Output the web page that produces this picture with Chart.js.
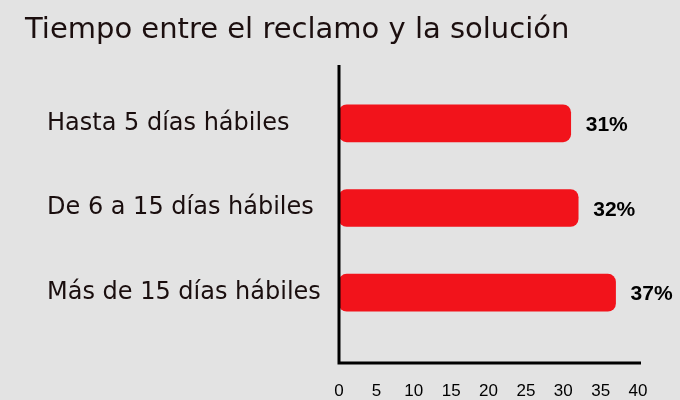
<!DOCTYPE html>
<html>
<head>
<meta charset="utf-8">
<script src="https://cdn.jsdelivr.net/npm/chart.js@4/dist/chart.umd.min.js"></script>
<style>
    html, body { margin: 0; padding: 0; background: #e3e3e3; }
    canvas { display: block; }
</style>
</head>
<body>
<canvas id="myChart" width="680" height="400"></canvas>
<script>
// data
const chart_title = 'Tiempo entre el reclamo y la solución';
const categories = ['Hasta 5 días hábiles', 'De 6 a 15 días hábiles', 'Más de 15 días hábiles'];
const percent_values = [31, 32, 37];
const x_ticks = [0, 5, 10, 15, 20, 25, 30, 35, 40];

// title drawn at the far left, above the plot
const titlePlugin =
{
    id: 'leftTitle',
    afterDraw(chart)
    {
        const ctx = chart.ctx;
        ctx.save();
        ctx.font = '29px "DejaVu Sans", Verdana, sans-serif';
        ctx.fillStyle = '#1c0f0f';
        ctx.textAlign = 'left';
        ctx.textBaseline = 'alphabetic';
        ctx.fillText(chart_title, 25, 38);
        ctx.restore();
    }
};

// the two black axis lines
const axisPlugin =
{
    id: 'axisLines',
    afterDatasetsDraw(chart)
    {
        const ctx = chart.ctx;
        const x = chart.scales.x;
        const area = chart.chartArea;
        const x0 = x.getPixelForValue(0);
        const x40 = x.getPixelForValue(40);
        const yLine = area.bottom + 28;

        ctx.save();
        ctx.strokeStyle = '#000';
        ctx.lineWidth = 3;
        ctx.beginPath();
        ctx.moveTo(x0, area.top - 16);
        ctx.lineTo(x0, yLine + 1.5);
        ctx.moveTo(x0 - 1.5, yLine);
        ctx.lineTo(x40 + 3, yLine);
        ctx.stroke();
        ctx.restore();
    }
};

// "31%" labels at the end of each bar
const valuePlugin =
{
    id: 'valueLabels',
    afterDatasetsDraw(chart)
    {
        const ctx = chart.ctx;
        const meta = chart.getDatasetMeta(0);
        ctx.save();
        ctx.font = 'bold 21px "Liberation Sans", Arial, sans-serif';
        ctx.fillStyle = '#000';
        ctx.textAlign = 'left';
        ctx.textBaseline = 'middle';
        meta.data.forEach(function(bar, i)
        {
            ctx.fillText(percent_values[i] + '%', bar.x + 15, bar.y + 2);
        });
        ctx.restore();
    }
};

let myChart = document.getElementById('myChart').getContext('2d');

let chart_1 = new Chart(myChart,
{
    type: 'bar',
    data:
    {
        labels: categories,
        datasets:
        [{
            data: percent_values,
            backgroundColor: '#f2131b',
            borderRadius: 8,
            borderSkipped: false,
            barThickness: 37
        }]
    },
    options:
    {
        indexAxis: 'y',
        responsive: false,
        animation: false,
        layout:
        {
            padding: { top: 81, left: 47, right: 42, bottom: 0 }
        },
        plugins:
        {
            legend: { display: false },
            tooltip: { enabled: false }
        },
        scales:
        {
            x:
            {
                min: 0,
                max: 40,
                afterBuildTicks(scale)
                {
                    scale.ticks = x_ticks.map(v => ({ value: v }));
                },
                afterFit(scale)
                {
                    scale.height = 65;
                    // the big label padding should not eat the right margin
                    scale.paddingLeft = 0;
                    scale.paddingRight = 0;
                },
                grid: { display: false, drawTicks: false },
                border: { display: false },
                ticks:
                {
                    padding: 46,
                    color: '#000',
                    font: { family: '"Liberation Sans", Arial, sans-serif', size: 17 }
                }
            },
            y:
            {
                afterFit(scale) { scale.width = 292; },
                grid: { display: false, drawTicks: false },
                border: { display: false },
                ticks:
                {
                    crossAlign: 'far',
                    color: '#1a0e0e',
                    font: { family: '"DejaVu Sans", Verdana, sans-serif', size: 24 }
                }
            }
        }
    },
    plugins: [titlePlugin, axisPlugin, valuePlugin]
});
</script>
</body>
</html>
